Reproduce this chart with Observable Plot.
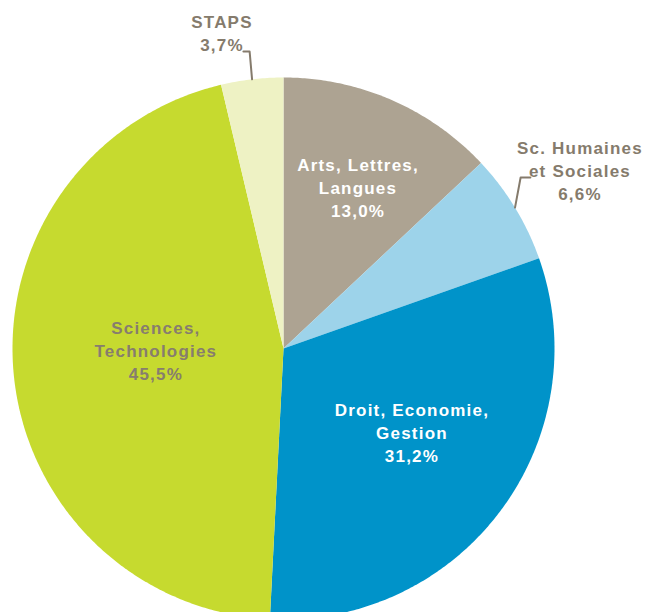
<!DOCTYPE html>
<html>
<head>
<meta charset="utf-8">
<script src="https://cdn.jsdelivr.net/npm/d3@7"></script>
<script src="https://cdn.jsdelivr.net/npm/@observablehq/plot@0.6"></script>
<style>
  html, body { margin: 0; padding: 0; background: #fff; }
  #chart svg text { letter-spacing: 1.2px; }
</style>
</head>
<body>
<div id="chart"></div>
<script>
// ---- data ----
const categories = ["Arts, Lettres, Langues", "Sc. Humaines et Sociales", "Droit, Economie, Gestion", "Sciences, Technologies", "STAPS"];
const shares = [13.0, 6.6, 31.2, 45.5, 3.7];
const displayNames = ["Arts, Lettres,\nLangues", "Sc. Humaines\net Sociales", "Droit, Economie,\nGestion", "Sciences,\nTechnologies", "STAPS"];

// ---- styles / layout ----
const palette = ["#ADA392", "#9DD3EA", "#0093C9", "#C6DA2F", "#EEF2C4"];
const textColors = ["#ffffff", "#857B6C", "#ffffff", "#877D6E", "#857B6C"];
const grey = "#857B6C";
// label anchors in radius units relative to pie centre
const labelLayout = [
  {dx: 0.275, dy: 0.596},
  {dx: 1.094, dy: 0.660},
  {dx: 0.474, dy: -0.307},
  {dx: -0.471, dy: -0.004},
  {dx: -0.227, dy: 1.166}
];
// leader lines: elbow and end (radius units), start at slice mid-angle on the rim
const leaders = {
  1: {elbow: [0.875, 0.631], end: [0.911, 0.631]},
  4: {elbow: [-0.125, 1.096], end: [-0.148, 1.096]}
};

const fmt = v => d3.format(".1f")(v).replace(".", ",") + "%";
const total = d3.sum(shares);
let acc = 0;
const slices = categories.map((c, i) => {
  const a0 = acc / total * 2 * Math.PI;
  acc += shares[i];
  const a1 = acc / total * 2 * Math.PI;
  return {category: c, i, a0, a1, mid: (a0 + a1) / 2};
});

function polygon(s) {
  const pts = [{x: 0, y: 0}];
  const n = Math.max(4, Math.ceil((s.a1 - s.a0) / (2 * Math.PI) * 720));
  for (let k = 0; k <= n; k++) {
    const a = s.a0 + (s.a1 - s.a0) * k / n;
    pts.push({x: Math.sin(a), y: Math.cos(a)});
  }
  return pts;
}

const sliceMarks = slices.map(s =>
  Plot.line(polygon(s), {x: "x", y: "y", curve: "linear-closed", fill: palette[s.i], stroke: "none"})
);

const leaderMarks = Object.entries(leaders).map(([k, L]) => {
  const s = slices[+k];
  const pts = [
    {x: Math.sin(s.mid), y: Math.cos(s.mid)},
    {x: L.elbow[0], y: L.elbow[1]},
    {x: L.end[0], y: L.end[1]}
  ];
  return Plot.line(pts, {x: "x", y: "y", stroke: grey, strokeWidth: 2});
});

const labels = slices.map(s => ({
  x: labelLayout[s.i].dx,
  y: labelLayout[s.i].dy,
  text: displayNames[s.i] + "\n" + fmt(shares[s.i]),
  color: textColors[s.i]
}));

const cx = 283, cy = 348, r = 271;
const chart = Plot.plot({
  width: 649,
  height: 612,
  margin: 0,
  x: {domain: [-1, 1], range: [cx - r, cx + r], axis: null},
  y: {domain: [-1, 1], range: [cy + r, cy - r], axis: null},
  marks: [
    ...sliceMarks,
    ...leaderMarks,
    Plot.text(labels, {
      x: "x", y: "y", text: "text", fill: d => d.color,
      fontSize: 17, fontWeight: "bold", lineHeight: 1.35,
      fontFamily: "'Liberation Sans', Arial, sans-serif",
      textAnchor: "middle"
    })
  ]
});
document.getElementById("chart").appendChild(chart);
</script>
</body>
</html>
